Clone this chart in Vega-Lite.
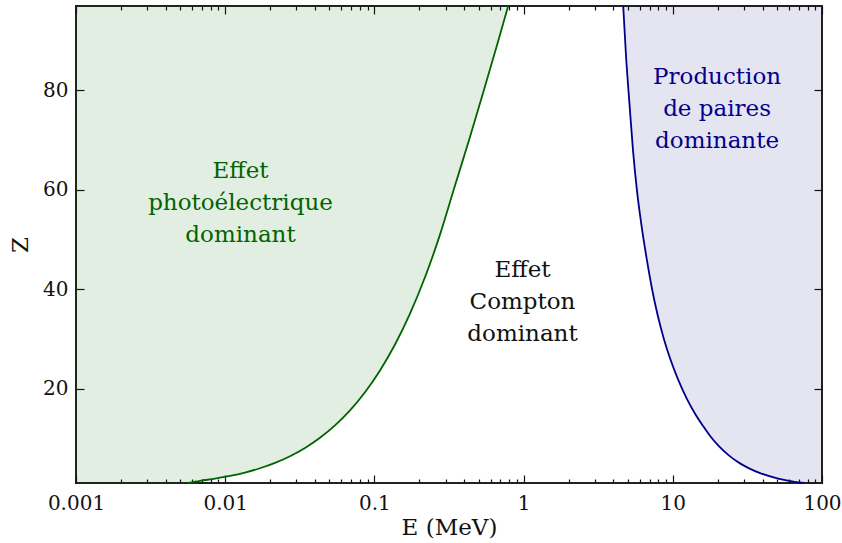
{
  "$schema": "https://vega.github.io/schema/vega-lite/v6.json",
  "width": 746,
  "height": 477,
  "autosize": {"type": "none"},
  "padding": {"left": 76, "top": 6, "right": 20, "bottom": 60},
  "background": "white",
  "config": {
    "view": {"stroke": "#222222", "strokeWidth": 2},
    "axis": {
      "grid": false,
      "zindex": 1,
      "domain": false,
      "labelFlush": false,
      "tickColor": "#111111",
      "tickWidth": 1.2,
      "labelFont": "DejaVu Serif",
      "labelFontSize": 20,
      "labelColor": "#111111",
      "titleFont": "DejaVu Serif",
      "titleFontSize": 23,
      "titleFontWeight": "normal",
      "titleColor": "#111111"
    }
  },
  "datasets": {
    "photo": [
      {"E": 0.005632, "Z": 1},
      {"E": 0.006778, "Z": 1.435},
      {"E": 0.008544, "Z": 1.865},
      {"E": 0.01077, "Z": 2.411},
      {"E": 0.013575, "Z": 3.101},
      {"E": 0.017106, "Z": 3.969},
      {"E": 0.021573, "Z": 5.052},
      {"E": 0.02719, "Z": 6.396},
      {"E": 0.03427, "Z": 8.058},
      {"E": 0.04319, "Z": 10.1},
      {"E": 0.054434, "Z": 12.59},
      {"E": 0.06862, "Z": 15.62},
      {"E": 0.086496, "Z": 19.27},
      {"E": 0.10902, "Z": 23.66},
      {"E": 0.13743, "Z": 28.88},
      {"E": 0.17322, "Z": 35.09},
      {"E": 0.21832, "Z": 42.4},
      {"E": 0.27522, "Z": 50.99},
      {"E": 0.34003, "Z": 60},
      {"E": 0.43053, "Z": 70},
      {"E": 0.54101, "Z": 80},
      {"E": 0.67655, "Z": 90},
      {"E": 0.78832, "Z": 97}
    ],
    "pair": [
      {"E": 75.76, "Z": 1},
      {"E": 58.99, "Z": 1.5},
      {"E": 49.4, "Z": 2},
      {"E": 38.47, "Z": 3},
      {"E": 32.21, "Z": 4},
      {"E": 28.04, "Z": 5},
      {"E": 23.84, "Z": 6.5},
      {"E": 20.21, "Z": 8.5},
      {"E": 17.74, "Z": 10.5},
      {"E": 16.01, "Z": 12.4},
      {"E": 14.07, "Z": 15},
      {"E": 12.4, "Z": 18},
      {"E": 10.79, "Z": 22},
      {"E": 9.607, "Z": 26},
      {"E": 8.714, "Z": 30},
      {"E": 7.884, "Z": 35},
      {"E": 7.265, "Z": 40},
      {"E": 6.695, "Z": 46},
      {"E": 6.158, "Z": 53},
      {"E": 5.745, "Z": 60},
      {"E": 5.409, "Z": 68},
      {"E": 5.133, "Z": 77},
      {"E": 4.857, "Z": 87},
      {"E": 4.652, "Z": 97}
    ],
    "labels": [
      {"E": 0.01266, "Z": 63.7, "label": "Effet\nphotoélectrique\ndominant", "region": "photo"},
      {"E": 0.983, "Z": 43.9, "label": "Effet\nCompton\ndominant", "region": "compton"},
      {"E": 19.8, "Z": 82.8, "label": "Production\nde paires\ndominante", "region": "pair"}
    ]
  },
  "resolve": {"axis": {"x": "independent", "y": "independent"}},
  "layer": [
    {
      "data": {"name": "photo"},
      "mark": {"type": "area", "orient": "horizontal", "interpolate": "monotone", "fill": "#006400", "fillOpacity": 0.11},
      "encoding": {
        "y": {"field": "Z", "type": "quantitative",
          "scale": {"domain": [1, 97], "nice": false, "zero": false},
          "axis": {"orient": "left", "values": [20, 40, 60, 80], "format": "d", "offset": -8, "tickSize": 8, "labelPadding": 8,
            "title": "Z", "titlePadding": 10}},
        "x": {"field": "E", "type": "quantitative",
          "scale": {"type": "log", "domain": [0.001, 100], "nice": false},
          "axis": {"orient": "bottom", "values": [0.001, 0.01, 0.1, 1, 10, 100], "format": "~g", "offset": -8, "tickSize": 8, "labelPadding": 10,
            "title": "E (MeV)", "titlePadding": 3}},
        "x2": {"datum": 0.001}
      }
    },
    {
      "data": {"name": "pair"},
      "mark": {"type": "area", "orient": "horizontal", "interpolate": "monotone", "fill": "#000080", "fillOpacity": 0.1},
      "encoding": {
        "y": {"field": "Z", "type": "quantitative",
          "scale": {"domain": [1, 97], "nice": false, "zero": false},
          "axis": {"orient": "right", "values": [20, 40, 60, 80], "offset": -8, "tickSize": 8, "labels": false, "title": null}},
        "x": {"field": "E", "type": "quantitative",
          "scale": {"type": "log", "domain": [0.001, 100], "nice": false},
          "axis": {"orient": "top", "values": [0.001, 0.01, 0.1, 1, 10, 100], "offset": -8, "tickSize": 8, "labels": false, "title": null}},
        "x2": {"datum": 100}
      }
    },
    {
      "data": {"name": "photo"},
      "mark": {"type": "line", "orient": "horizontal", "interpolate": "monotone", "stroke": "#006400", "strokeWidth": 1.8},
      "encoding": {
        "x": {"field": "E", "type": "quantitative",
          "scale": {"type": "log", "domain": [0.001, 100], "nice": false},
          "axis": {"orient": "bottom", "values": [0.002, 0.003, 0.004, 0.005, 0.006, 0.007, 0.008, 0.009, 0.02, 0.03, 0.04, 0.05, 0.06, 0.07, 0.08, 0.09, 0.2, 0.3, 0.4, 0.5, 0.6, 0.7, 0.8, 0.9, 2, 3, 4, 5, 6, 7, 8, 9, 20, 30, 40, 50, 60, 70, 80, 90],
            "offset": -4, "tickSize": 4, "labels": false, "title": null}},
        "y": {"field": "Z", "type": "quantitative", "scale": {"domain": [1, 97], "nice": false, "zero": false}, "axis": null}
      }
    },
    {
      "data": {"name": "pair"},
      "mark": {"type": "line", "orient": "horizontal", "interpolate": "monotone", "stroke": "#00008b", "strokeWidth": 1.8},
      "encoding": {
        "x": {"field": "E", "type": "quantitative",
          "scale": {"type": "log", "domain": [0.001, 100], "nice": false},
          "axis": {"orient": "top", "values": [0.002, 0.003, 0.004, 0.005, 0.006, 0.007, 0.008, 0.009, 0.02, 0.03, 0.04, 0.05, 0.06, 0.07, 0.08, 0.09, 0.2, 0.3, 0.4, 0.5, 0.6, 0.7, 0.8, 0.9, 2, 3, 4, 5, 6, 7, 8, 9, 20, 30, 40, 50, 60, 70, 80, 90],
            "offset": -4, "tickSize": 4, "labels": false, "title": null}},
        "y": {"field": "Z", "type": "quantitative", "scale": {"domain": [1, 97], "nice": false, "zero": false}, "axis": null}
      }
    },
    {
      "data": {"name": "labels"},
      "mark": {"type": "text", "font": "DejaVu Serif", "fontSize": 23, "lineBreak": "\n", "lineHeight": 32, "align": "center", "baseline": "middle"},
      "encoding": {
        "x": {"field": "E", "type": "quantitative", "scale": {"type": "log", "domain": [0.001, 100], "nice": false}, "axis": null},
        "y": {"field": "Z", "type": "quantitative", "scale": {"domain": [1, 97], "nice": false, "zero": false}, "axis": null},
        "text": {"field": "label"},
        "color": {"field": "region", "type": "nominal",
          "scale": {"domain": ["photo", "compton", "pair"], "range": ["#006400", "#111111", "#00008b"]},
          "legend": null}
      }
    }
  ]
}
